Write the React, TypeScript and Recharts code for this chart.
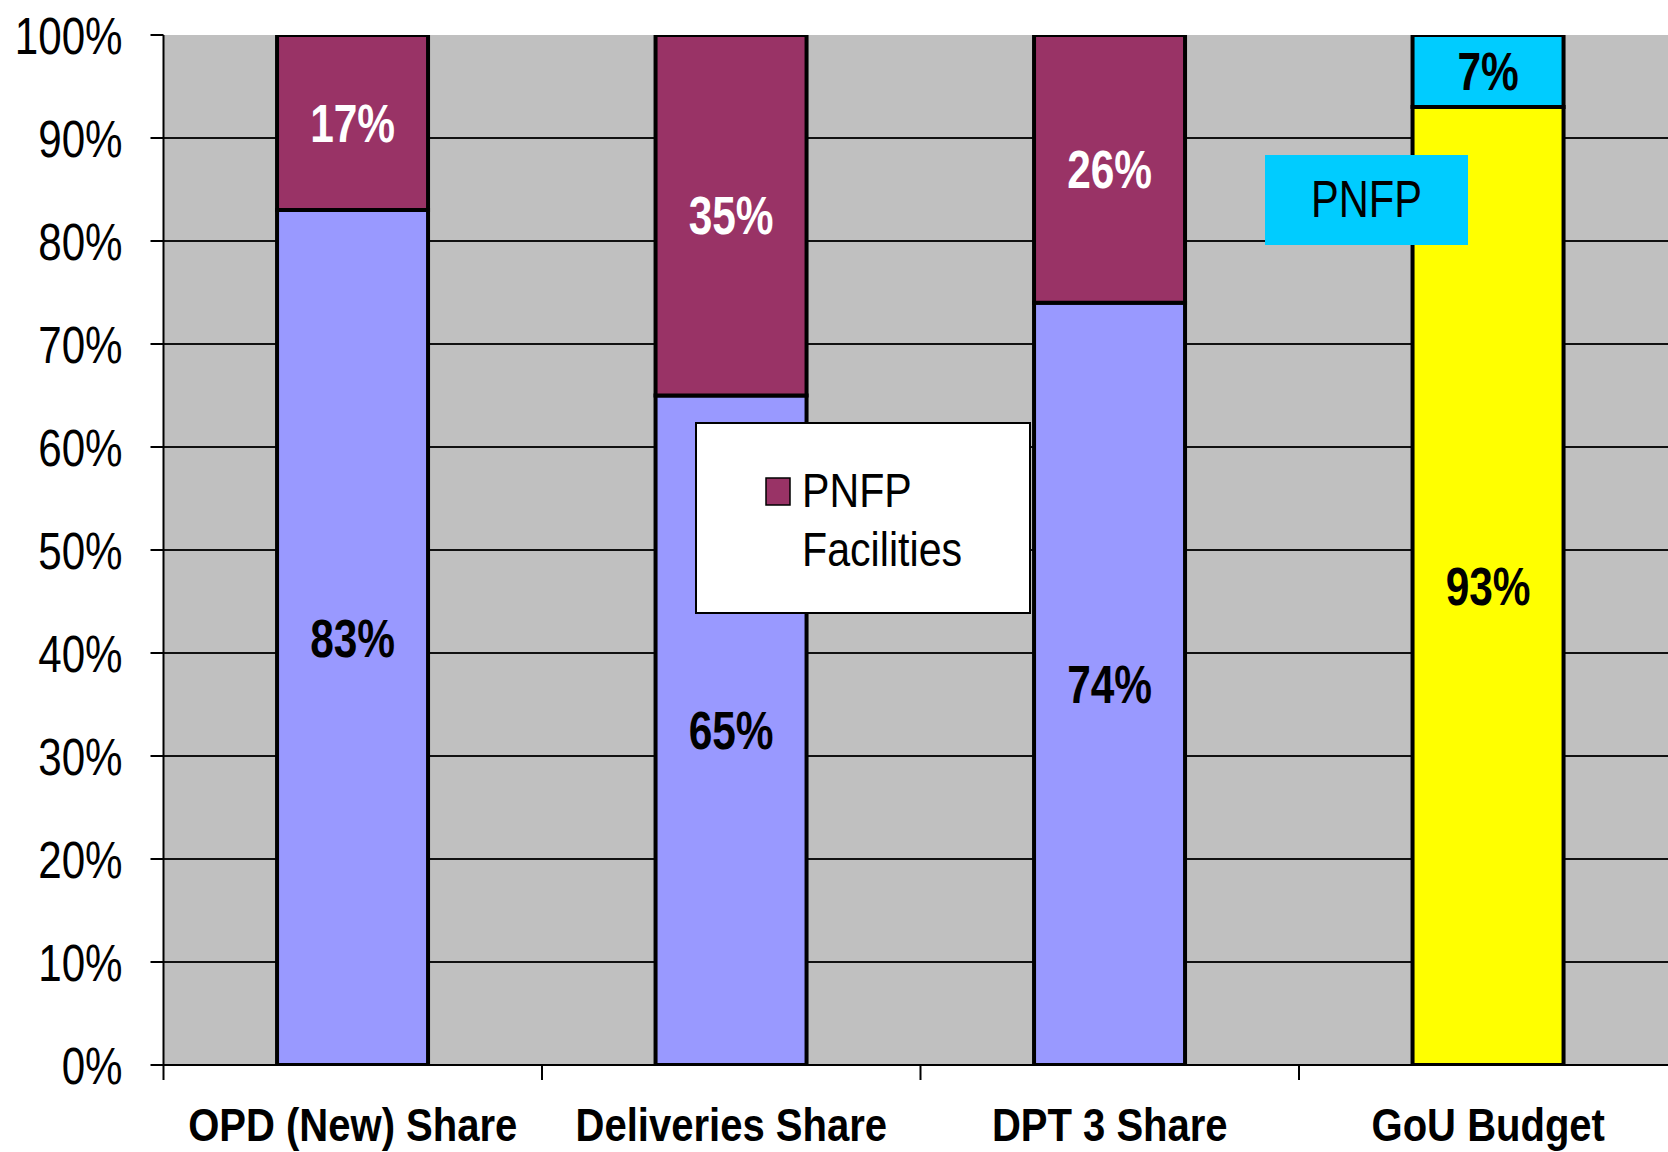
import {
  BarChart,
  Bar,
  XAxis,
  YAxis,
  CartesianGrid,
  Cell,
  LabelList,
  Legend,
} from "recharts";

const categories = ["OPD (New) Share", "Deliveries Share", "DPT 3 Share", "GoU Budget"];
const govShare = [83, 65, 74, 93];
const pnfpShare = [17, 35, 26, 7];
const yTicks = [0, 10, 20, 30, 40, 50, 60, 70, 80, 90, 100];

const govColors = ["#9999FF", "#9999FF", "#9999FF", "#FFFF00"];
const pnfpColors = ["#993366", "#993366", "#993366", "#00CCFF"];
const govLabelColors = ["#000", "#000", "#000", "#000"];
const pnfpLabelColors = ["#fff", "#fff", "#fff", "#000"];

const data = categories.map((name, i) => ({
  name,
  gov: govShare[i],
  pnfp: pnfpShare[i],
}));

const FONT = "'Liberation Sans', Arial, sans-serif";
const PLOT_LEFT = 163.5;
const BAND = 378.5;

const YTick = (props: any) => {
  const { x, y, payload } = props;
  return (
    <text
      transform={`translate(${x},${y}) scale(0.81,1)`}
      textAnchor="end"
      dy="0.36em"
      fontSize={52}
      fontFamily={FONT}
      fill="#000"
    >
      {payload.value}%
    </text>
  );
};

const XTick = (props: any) => {
  const { x, y, payload } = props;
  const bx = x - BAND / 2;
  return (
    <g>
      <line x1={bx} x2={bx} y1={y} y2={y + 15} stroke="#000" strokeWidth={2} />
      <text
        transform={`translate(${x},${y + 76}) scale(0.87,1)`}
        textAnchor="middle"
        fontSize={46}
        fontWeight="bold"
        fontFamily={FONT}
        fill="#000"
      >
        {payload.value}
      </text>
    </g>
  );
};

// centred % label inside each stacked segment
const segLabel = (colors: string[]) => (p: any) => {
  const vb = p.viewBox || p;
  const x = vb.x ?? p.x;
  const y = vb.y ?? p.y;
  const w = vb.width ?? p.width;
  const h = vb.height ?? p.height;
  const idx =
    typeof p.index === "number" ? p.index : Math.floor((x - PLOT_LEFT) / BAND);
  return (
    <text
      transform={`translate(${x + w / 2},${y + h / 2}) scale(0.8,1)`}
      textAnchor="middle"
      dy="0.36em"
      fontSize={53}
      fontWeight="bold"
      fontFamily={FONT}
      fill={colors[idx] || "#000"}
    >
      {p.value}%
    </text>
  );
};

const LegendBox = () => (
  <div
    style={{
      width: 336,
      height: 192,
      background: "#fff",
      border: "2px solid #000",
      boxSizing: "border-box",
    }}
  >
    <svg width={332} height={188} style={{ display: "block" }}>
      <rect x={69} y={54} width={24} height={27} fill="#993366" stroke="#000" strokeWidth={1.5} />
      <text
        transform="translate(105,83) scale(0.84,1)"
        fontSize={49}
        fontFamily={FONT}
        fill="#000"
      >
        PNFP
      </text>
      <text
        transform="translate(105,142) scale(0.84,1)"
        fontSize={49}
        fontFamily={FONT}
        fill="#000"
      >
        Facilities
      </text>
    </svg>
  </div>
);

export default function App() {
  return (
    <div
      style={{
        position: "fixed",
        left: 0,
        top: 0,
        width: 1668,
        height: 1152,
        overflow: "hidden",
        background: "#fff",
      }}
    >
      <BarChart
        width={1700}
        height={1152}
        data={data}
        margin={{ top: 35, right: 22.5, left: 0, bottom: 0 }}
        barCategoryGap="30%"
      >
        <CartesianGrid
          vertical={false}
          horizontalValues={[10, 20, 30, 40, 50, 60, 70, 80, 90]}
          fill="#C0C0C0"
          fillOpacity={1}
          stroke="#111"
          strokeWidth={2}
        />
        <XAxis
          dataKey="name"
          height={87}
          tickSize={0}
          tickMargin={0}
          tick={<XTick />}
          axisLine={{ stroke: "#000", strokeWidth: 2 }}
          interval={0}
        />
        <YAxis
          width={PLOT_LEFT}
          domain={[0, 100]}
          ticks={yTicks}
          tickSize={13}
          tickMargin={28}
          tick={<YTick />}
          tickLine={{ stroke: "#000", strokeWidth: 2 }}
          axisLine={{ stroke: "#000", strokeWidth: 2 }}
          allowDataOverflow
        />
        <Legend
          layout="vertical"
          align="center"
          verticalAlign="middle"
          wrapperStyle={{ left: 695, top: 422, width: 336, height: 192 }}
          content={() => <LegendBox />}
        />
        <Bar
          dataKey="gov"
          name="Government"
          stackId="a"
          stroke="#000"
          strokeWidth={4}
          isAnimationActive={false}
        >
          {data.map((_, i) => (
            <Cell key={i} fill={govColors[i]} />
          ))}
          <LabelList dataKey="gov" content={segLabel(govLabelColors)} />
        </Bar>
        <Bar
          dataKey="pnfp"
          name="PNFP Facilities"
          stackId="a"
          stroke="#000"
          strokeWidth={4}
          isAnimationActive={false}
        >
          {data.map((_, i) => (
            <Cell key={i} fill={pnfpColors[i]} />
          ))}
          <LabelList dataKey="pnfp" content={segLabel(pnfpLabelColors)} />
        </Bar>
      </BarChart>
      <div
        style={{
          position: "absolute",
          left: 1265,
          top: 155,
          width: 203,
          height: 90,
          background: "#00CCFF",
        }}
      >
        <svg width={203} height={90} style={{ display: "block" }}>
          <text
            transform="translate(101.5,62) scale(0.8,1)"
            textAnchor="middle"
            fontSize={52}
            fontFamily={FONT}
            fill="#000"
          >
            PNFP
          </text>
        </svg>
      </div>
    </div>
  );
}
